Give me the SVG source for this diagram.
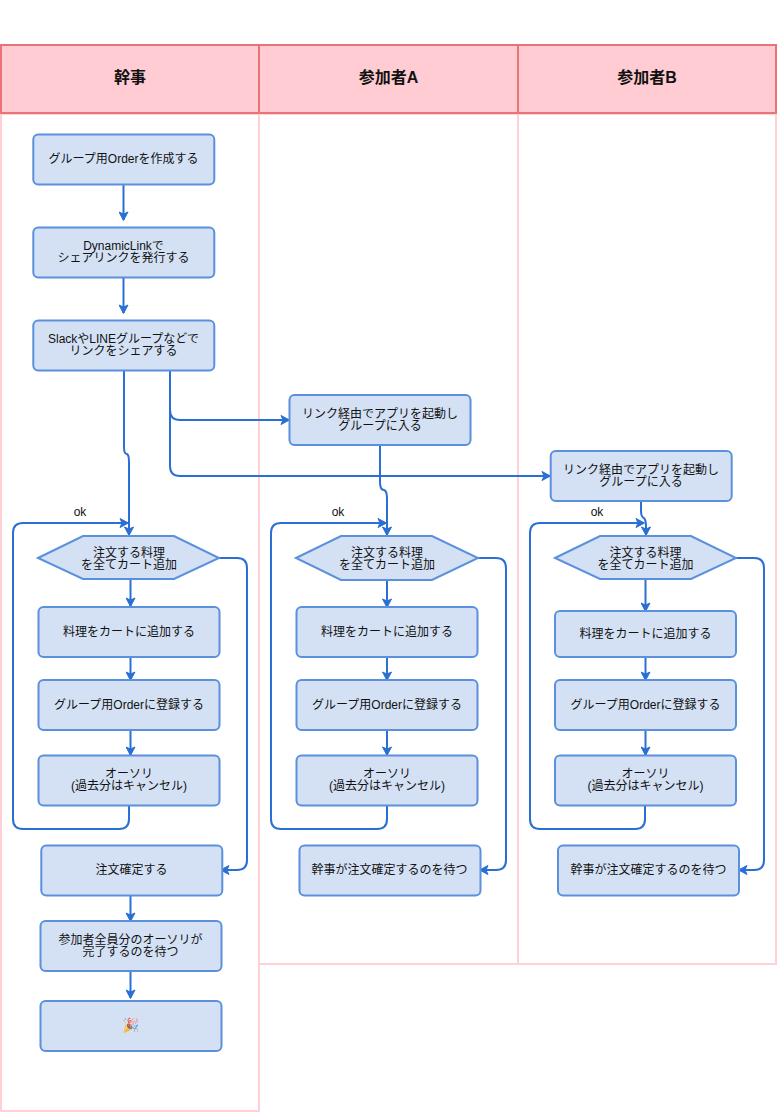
<svg xmlns="http://www.w3.org/2000/svg" width="777" height="1112" viewBox="0 0 777 1112">
<style>
text{font-family:"Liberation Sans","Noto Sans CJK JP",sans-serif;fill:#111;text-anchor:middle}
.t{font-size:12px}
.h{font-size:16px;font-weight:bold}
.e{font-size:14px;opacity:.75}
.lane{fill:#fff;stroke:#ffd0d6;stroke-width:2}
.head{fill:#ffccd3;stroke:#e97478;stroke-width:2}
.n{fill:#d4e1f5;stroke:#5a90dc;stroke-width:2}
.c{fill:none;stroke:#2a6fd4;stroke-width:2;marker-end:url(#a)}
</style>
<defs>
<marker id="a" viewBox="0 0 10 10" refX="9" refY="5" markerWidth="10" markerHeight="10" markerUnits="userSpaceOnUse" orient="auto"><path d="M1 .5L9.500 5L1 9.500L3 5Z" fill="#2a6fd4" stroke="#2a6fd4"/></marker>
</defs>
<rect width="777" height="1112" fill="#fff"/>
<g id="lanes">
<rect class="lane" x="1" y="114" width="258" height="997"/>
<rect class="lane" x="259" y="114" width="259" height="850"/>
<rect class="lane" x="518" y="114" width="258" height="850"/>
</g>
<g id="header-kanji"><rect class="head" x="1" y="45" width="258" height="68"/><text class="h" x="130" y="83">幹事</text></g>
<g id="header-a"><rect class="head" x="259" y="45" width="259" height="68"/><text class="h" x="388.500" y="83">参加者A</text></g>
<g id="header-b"><rect class="head" x="518" y="45" width="258" height="68"/><text class="h" x="647" y="83">参加者B</text></g>

<g id="connectors">
<path class="c" d="M123.500 184V220"/>
<path class="c" d="M123.500 277V313"/>
<path class="c" d="M124 370V447Q124 454 127 454Q129 455 129 462V535"/>
<path class="c" d="M170 370V410Q170 420 180 420H289"/>
<path class="c" d="M170 370V466Q170 476 180 476H550"/>
<path class="c" d="M380 445V482Q380 490 384 490Q387 491 387 498V535"/>
<path class="c" d="M641 501V511Q641 517 644 518Q646 520 646 527V535"/>
<path class="c" d="M130.500 579V606"/>
<path class="c" d="M130.500 653V680"/>
<path class="c" d="M130.500 730V755"/>
<path class="c" d="M129 806V819Q129 829 119 829H23Q13 829 13 819V533Q13 523 23 523H128"/>
<path class="c" d="M219 558H237Q247 558 247 568V860Q247 870 237 870H221"/>
<path class="c" d="M130.500 895V921"/>
<path class="c" d="M130.500 971V998"/>
<path class="c" d="M387 580V607"/>
<path class="c" d="M387 657V680"/>
<path class="c" d="M387 730V755"/>
<path class="c" d="M387 805V819Q387 829 377 829H281Q271 829 271 819V533Q271 523 281 523H386"/>
<path class="c" d="M478 558H496Q506 558 506 568V860Q506 870 496 870H480"/>
<path class="c" d="M645.500 579V611"/>
<path class="c" d="M645.500 657V680"/>
<path class="c" d="M645.500 730V755"/>
<path class="c" d="M645 805V819Q645 829 635 829H540Q530 829 530 819V533Q530 523 540 523H644"/>
<path class="c" d="M736 558H754Q764 558 764 568V860Q764 870 754 870H739"/>
</g>
<g id="edge-labels">
<text class="t" x="80" y="516">ok</text>
<text class="t" x="338" y="516">ok</text>
<text class="t" x="597" y="516">ok</text>
</g>

<g id="n1"><rect class="n" x="33.300" y="134.500" width="181" height="50" rx="5"/><text class="t" x="123.500" y="163">グループ用Orderを作成する</text></g>
<g id="n2"><rect class="n" x="33.300" y="227.500" width="181" height="50" rx="5"/><text class="t" x="123.500" y="250">DynamicLinkで</text><text class="t" x="123.500" y="262">シェアリンクを発行する</text></g>
<g id="n3"><rect class="n" x="33.300" y="320.500" width="181" height="50" rx="5"/><text class="t" x="123.500" y="343">SlackやLINEグループなどで</text><text class="t" x="123.500" y="355">リンクをシェアする</text></g>
<g id="n4"><rect class="n" x="289.500" y="395" width="181" height="50" rx="5"/><text class="t" x="380" y="418">リンク経由でアプリを起動し</text><text class="t" x="380" y="430">グループに入る</text></g>
<g id="n5"><rect class="n" x="550.700" y="451" width="181" height="50" rx="5"/><text class="t" x="641" y="474">リンク経由でアプリを起動し</text><text class="t" x="641" y="486">グループに入る</text></g>

<g id="k1"><path class="n" d="M38 558L83 536H174L219 558L174 579H83Z"/><text class="t" x="129" y="557">注文する料理</text><text class="t" x="129" y="569">を全てカート追加</text></g>
<g id="k2"><rect class="n" x="38.500" y="607" width="181" height="50" rx="5"/><text class="t" x="129" y="636">料理をカートに追加する</text></g>
<g id="k3"><rect class="n" x="38.500" y="680" width="181" height="50" rx="5"/><text class="t" x="129" y="709">グループ用Orderに登録する</text></g>
<g id="k4"><rect class="n" x="38.500" y="755.500" width="181" height="50" rx="5"/><text class="t" x="129" y="778">オーソリ</text><text class="t" x="129" y="790">(過去分はキャンセル)</text></g>
<g id="k5"><rect class="n" x="41.300" y="845.500" width="181" height="50" rx="5"/><text class="t" x="131.500" y="874">注文確定する</text></g>
<g id="k6"><rect class="n" x="40.500" y="921" width="181" height="50" rx="5"/><text class="t" x="130.500" y="944">参加者全員分のオーソリが</text><text class="t" x="130.500" y="956">完了するのを待つ</text></g>
<g id="k7"><rect class="n" x="40.500" y="1001" width="181" height="50" rx="5"/><text class="e" x="130.500" y="1030">🎉</text></g>

<g id="a1"><path class="n" d="M296 558L341 536H432L478 558L432 580H341Z"/><text class="t" x="387" y="557">注文する料理</text><text class="t" x="387" y="569">を全てカート追加</text></g>
<g id="a2"><rect class="n" x="296.500" y="607" width="181" height="50" rx="5"/><text class="t" x="387" y="636">料理をカートに追加する</text></g>
<g id="a3"><rect class="n" x="296.500" y="680" width="181" height="50" rx="5"/><text class="t" x="387" y="709">グループ用Orderに登録する</text></g>
<g id="a4"><rect class="n" x="296.500" y="755.500" width="181" height="50" rx="5"/><text class="t" x="387" y="778">オーソリ</text><text class="t" x="387" y="790">(過去分はキャンセル)</text></g>
<g id="a5"><rect class="n" x="299.500" y="845.500" width="181" height="50" rx="5"/><text class="t" x="389.500" y="874">幹事が注文確定するのを待つ</text></g>

<g id="b1"><path class="n" d="M555 558L600 536H691L736 558L691 579H600Z"/><text class="t" x="645.500" y="557">注文する料理</text><text class="t" x="645.500" y="569">を全てカート追加</text></g>
<g id="b2"><rect class="n" x="555" y="611" width="181" height="46" rx="5"/><text class="t" x="645.500" y="638">料理をカートに追加する</text></g>
<g id="b3"><rect class="n" x="555" y="680" width="181" height="50" rx="5"/><text class="t" x="645.500" y="709">グループ用Orderに登録する</text></g>
<g id="b4"><rect class="n" x="555" y="755.500" width="181" height="50" rx="5"/><text class="t" x="645.500" y="778">オーソリ</text><text class="t" x="645.500" y="790">(過去分はキャンセル)</text></g>
<g id="b5"><rect class="n" x="558" y="845.500" width="181" height="50" rx="5"/><text class="t" x="648.500" y="874">幹事が注文確定するのを待つ</text></g>
</svg>
